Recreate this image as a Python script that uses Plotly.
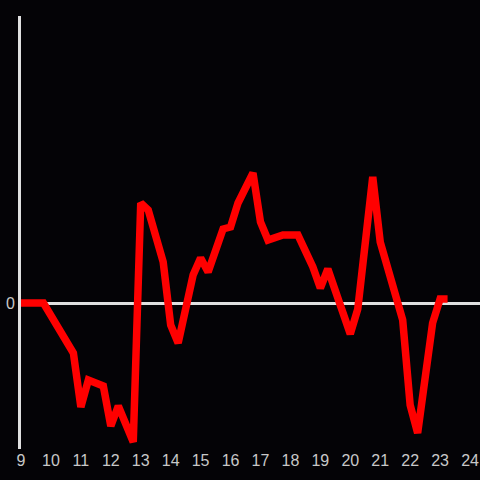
"""Intraday line on a dark background"""
import plotly.graph_objects as go

# hour of day
hours = [9.0, 9.75, 10.75, 11.0, 11.25, 11.75, 12.0, 12.25, 12.75, 13.0,
         13.25, 13.75, 14.0, 14.25, 14.75, 15.0, 15.25, 15.75, 16.0, 16.25,
         16.75, 17.0, 17.25, 17.75, 18.25, 18.75, 19.0, 19.25, 20.0, 20.25,
         20.75, 21.0, 21.75, 22.0, 22.25, 22.75, 23.0, 23.25]
# change vs. open
values = [0.0, 0.0, -0.50, -1.04, -0.77, -0.83, -1.23, -1.03, -1.39, 1.00,
          0.93, 0.41, -0.22, -0.40, 0.28, 0.45, 0.31, 0.74, 0.76, 1.00,
          1.30, 0.81, 0.63, 0.68, 0.68, 0.36, 0.15, 0.34, -0.31, -0.06,
          1.26, 0.61, -0.17, -1.02, -1.30, -0.20, 0.04, 0.04]

x_ticks = list(range(9, 25))

BG = "#040306"

fig = go.Figure(
    go.Scatter(
        x=hours,
        y=values,
        mode="lines",
        line=dict(color="#ff0000", width=7.5),
        hoverinfo="x+y",
    )
)

fig.update_layout(
    width=480,
    height=480,
    paper_bgcolor=BG,
    plot_bgcolor=BG,
    margin=dict(l=21, r=0, t=16, b=31),
    showlegend=False,
    font=dict(family="Liberation Sans, Arial, sans-serif", size=16, color="#c8c8c8"),
)

fig.update_xaxes(
    range=[9, 24.333],
    tickvals=x_ticks,
    showgrid=False,
    zeroline=False,
    showline=False,
    ticks="",
    automargin=False,
)
fig.update_yaxes(
    range=[-1.46, 2.87],
    tickvals=[0],
    showgrid=False,
    zeroline=True,
    zerolinecolor="#e0e0e0",
    zerolinewidth=3,
    showline=True,
    linecolor="#e0e0e0",
    linewidth=3,
    ticks="",
    automargin=False,
)

# drop the page margin so the figure fills the window
fig.write_html(
    "out.html",
    config={"displayModeBar": False},
    post_script=f"document.body.style.margin='0';document.body.style.background='{BG}';",
)
